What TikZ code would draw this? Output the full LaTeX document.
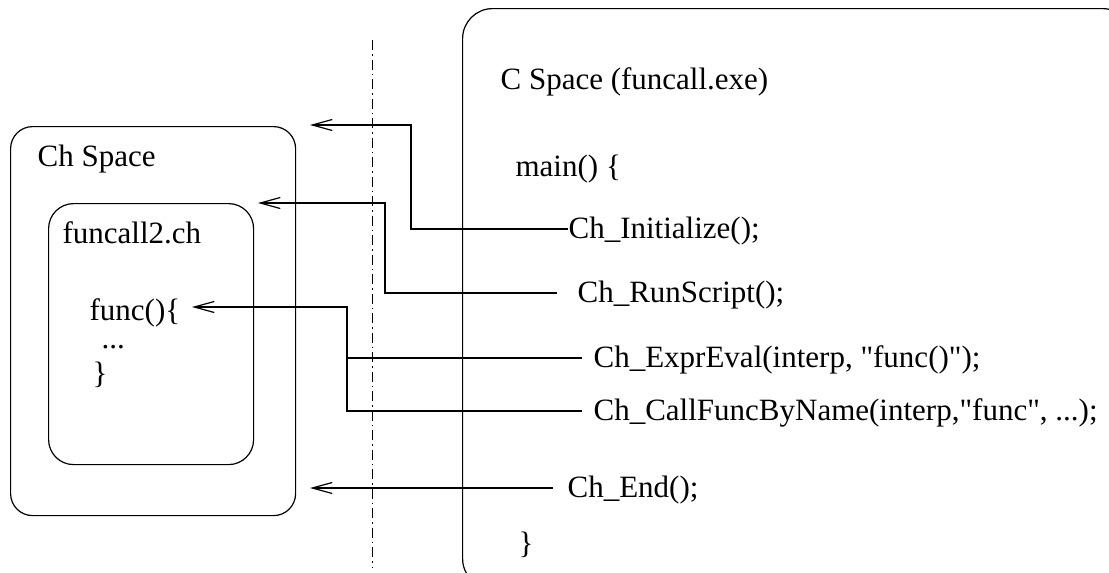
\documentclass[tikz,border=0pt]{standalone}
\usepackage{fontspec}
\newfontfamily\codefont{Liberation Serif}
\usetikzlibrary{positioning,calc,arrows.meta}

\begin{document}
\begin{tikzpicture}[-,>={Straight Barb[length=20pt,width=11pt]}, line width=1.2pt, x=1pt, y=-1pt,
	code/.style={inner sep=0pt, anchor=base west, text height=18pt, text depth=0pt, font=\codefont\fontsize{31}{36}\selectfont},
	space/.style={draw, anchor=north west, inner sep=0pt, rounded corners=22pt}]
	
	\useasboundingbox (0,0) rectangle (1109,573);
	\clip (0,0) rectangle (1109,573);
	
	% the two address spaces
	\node [space, minimum width=285pt, minimum height=389pt] (chspace) at (10,126) {};
	\node [space, rounded corners=25pt, minimum width=205pt, minimum height=261pt] (funcbox) at (48,203) {};
	\node [space, rounded corners=30pt, minimum width=670pt, minimum height=580pt] (cspace) at (462,8) {};
	
	\draw [line width=0.9pt, dash pattern=on 10pt off 4pt on 1.5pt off 4pt] (372,40) -- (372,567);
	
	\node [code] (chlabel) at (37,166) {Ch Space};
	\node [code] (funclabel) at (62,243) {funcall2.ch};
	\node [code] (funcopen) at (89,320) {func()\{};
	\node [code, text height=5pt] (dots) at (101,348) {...};
	\node [code] (funcclose) at (92,383) {\}};
	
	\node [code] (clabel) at (500,89) {C Space (funcall.exe)};
	\node [code] (mainopen) at (515,176) {main() \{};
	\node [code] (init) at (568,238) {Ch\_Initialize();};
	\node [code] (run) at (577,302) {Ch\_RunScript();};
	\node [code] (expr) at (593,367) {Ch\_ExprEval(interp, "func()");};
	\node [code] (callf) at (593,420) {Ch\_CallFuncByName(interp,"func", ...);};
	\node [code] (endc) at (567,497) {Ch\_End();};
	\node [code] (mainclose) at (518,553) {\}};
	
	% arrow tips
	\coordinate (inittip) at (310,125);
	\coordinate (runtip) at (258,203);
	\coordinate (functip) at (192,307);
	\coordinate (endtip) at (310,488);
	\coordinate (hub) at ($(expr.west)+(-246,0)$);
	
	\draw [->] (init.west) -- ++(-157,0) |- (inittip);
	\draw [->, shorten <=20pt] (run.west) -- ++(-192,0) |- (runtip);
	\draw [->, shorten <=11pt] (expr.west) -- (hub) |- (functip);
	\draw [shorten <=11pt] (callf.west) -| (hub);
	\draw [->, shorten <=14pt] (endc.west) -- (endtip);
\end{tikzpicture}
\end{document}
